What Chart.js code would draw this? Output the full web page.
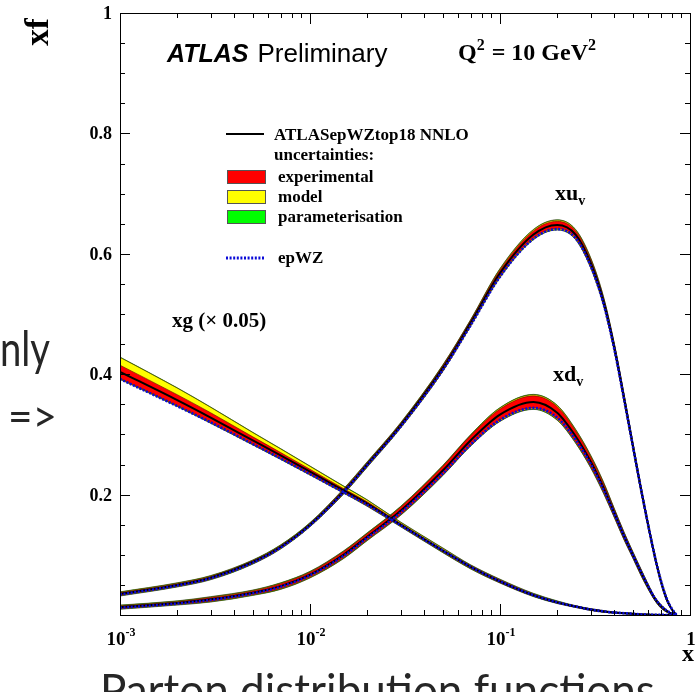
<!DOCTYPE html>
<html>
<head>
<meta charset="utf-8">
<script src="https://cdn.jsdelivr.net/npm/chart.js@4"></script>
<style>
  html, body { margin: 0; padding: 0; background: #fff; }
</style>
</head>
<body>
<canvas id="pdf-chart" width="697" height="692"></canvas>
<script>
// x grid and PDF values (xg already scaled by 0.05)
const xGrid = [0.001, 0.002, 0.003, 0.005, 0.007, 0.01, 0.015, 0.02, 0.03, 0.05, 0.07, 0.1, 0.15, 0.2, 0.25, 0.3, 0.35, 0.4, 0.45, 0.5, 0.55, 0.6, 0.65, 0.7, 0.75, 0.8, 0.85];

const xuv = [0.035, 0.05, 0.062, 0.088, 0.113, 0.15, 0.205, 0.25, 0.315, 0.41, 0.485, 0.568, 0.632, 0.648, 0.632, 0.585, 0.522, 0.444, 0.36, 0.282, 0.212, 0.152, 0.1, 0.058, 0.028, 0.01, 0.0];
const xdv = [0.013, 0.02, 0.026, 0.037, 0.048, 0.067, 0.1, 0.13, 0.173, 0.24, 0.29, 0.333, 0.354, 0.336, 0.297, 0.255, 0.212, 0.169, 0.131, 0.1, 0.072, 0.048, 0.028, 0.015, 0.007, 0.002, 0.0];
const xg = [0.404, 0.357, 0.328, 0.29, 0.265, 0.238, 0.207, 0.185, 0.15, 0.107, 0.08, 0.056, 0.033, 0.021, 0.014, 0.009, 0.006, 0.004, 0.003, 0.002, 0.001, 0.0007, 0.0004, 0.0002, 0.0001, 0.0, 0.0];

// epWZ comparison curves
const xuvEpWZ = [0.034, 0.049, 0.061, 0.087, 0.112, 0.149, 0.204, 0.249, 0.313, 0.407, 0.481, 0.562, 0.625, 0.641, 0.626, 0.58, 0.518, 0.441, 0.358, 0.281, 0.212, 0.152, 0.1, 0.059, 0.029, 0.011, 0.0];
const xdvEpWZ = [0.012, 0.019, 0.025, 0.036, 0.047, 0.066, 0.098, 0.128, 0.17, 0.235, 0.283, 0.324, 0.344, 0.328, 0.291, 0.251, 0.209, 0.168, 0.131, 0.1, 0.073, 0.049, 0.029, 0.016, 0.008, 0.003, 0.0];
const xgEpWZ = [0.392, 0.347, 0.32, 0.284, 0.26, 0.234, 0.204, 0.183, 0.149, 0.107, 0.08, 0.056, 0.033, 0.021, 0.014, 0.009, 0.006, 0.004, 0.003, 0.002, 0.001, 0.0007, 0.0004, 0.0002, 0.0001, 0.0, 0.0];

// uncertainties (half widths)
const xuvExp = [0.002, 0.002, 0.002, 0.002, 0.002, 0.002, 0.003, 0.003, 0.003, 0.004, 0.004, 0.005, 0.006, 0.006, 0.006, 0.006, 0.005, 0.005, 0.005, 0.004, 0.004, 0.003, 0.003, 0.002, 0.002, 0.001, 0.0];
const xdvExp = [0.002, 0.002, 0.003, 0.003, 0.004, 0.004, 0.005, 0.005, 0.006, 0.007, 0.008, 0.009, 0.01, 0.01, 0.009, 0.008, 0.007, 0.006, 0.005, 0.004, 0.004, 0.003, 0.002, 0.002, 0.001, 0.001, 0.0];
const xgExp = [0.011, 0.009, 0.008, 0.006, 0.005, 0.004, 0.003, 0.003, 0.002, 0.002, 0.002, 0.002, 0.0015, 0.001, 0.001, 0.001, 0.001, 0.0005, 0.0005, 0.0005, 0.0005, 0.0003, 0.0002, 0.0001, 0.0, 0.0, 0.0];
const valenceModel = [0.001, 0.001, 0.001, 0.001, 0.001, 0.001, 0.001, 0.001, 0.001, 0.001, 0.001, 0.002, 0.002, 0.002, 0.002, 0.002, 0.002, 0.001, 0.001, 0.001, 0.001, 0.001, 0.001, 0.001, 0.001, 0.0, 0.0];
const xgModelUp = [0.013, 0.011, 0.009, 0.007, 0.006, 0.005, 0.004, 0.003, 0.002, 0.002, 0.001, 0.001, 0.001, 0.001, 0.0, 0.0, 0.0, 0.0, 0.0, 0.0, 0.0, 0.0, 0.0, 0.0, 0.0, 0.0, 0.0];
const xgModelDn = [0.001, 0.001, 0.001, 0.001, 0.001, 0.001, 0.001, 0.001, 0.001, 0.001, 0.001, 0.0005, 0.0005, 0.0005, 0.0, 0.0, 0.0, 0.0, 0.0, 0.0, 0.0, 0.0, 0.0, 0.0, 0.0, 0.0, 0.0];
const paramErr = [0.0005, 0.0005, 0.0005, 0.0005, 0.0005, 0.0005, 0.0005, 0.0005, 0.0005, 0.0005, 0.0005, 0.0005, 0.0005, 0.0005, 0.0005, 0.0005, 0.0005, 0.0005, 0.0005, 0.0005, 0.0005, 0.0005, 0.0, 0.0, 0.0, 0.0, 0.0];

// axis ticks and labels
const xLabelValues = [0.001, 0.01, 0.1, 1];
const xLabelText = [['10', '-3'], ['10', '-2'], ['10', '-1'], ['1', '']];
const yLabelValues = [0.2, 0.4, 0.6, 0.8, 1];
const yLabelText = ['0.2', '0.4', '0.6', '0.8', '1'];

const SERIF = '"Liberation Serif", "Times New Roman", serif';
const SANS = '"Liberation Sans", Arial, sans-serif';
const SLIDE = 'Lato, "Open Sans", sans-serif';

function toPoints(vals, errs, sign) {
    return xGrid.map((x, i) => {
        let y = vals[i];
        errs.forEach(e => { y += sign * e[i]; });
        return { x: x, y: y };
    });
}

function line(vals, color, width, dash) {
    return {
        data: toPoints(vals, [], 0),
        borderColor: color,
        borderWidth: width,
        borderDash: dash || [],
        pointRadius: 0,
        fill: false,
        cubicInterpolationMode: 'monotone'
    };
}

function band(vals, up, dn, fillColor, edgeColor) {
    return [{
        data: toPoints(vals, up, 1),
        borderColor: edgeColor,
        borderWidth: 0.6,
        backgroundColor: fillColor,
        pointRadius: 0,
        fill: '+1',
        cubicInterpolationMode: 'monotone'
    }, {
        data: toPoints(vals, dn, -1),
        borderColor: edgeColor,
        borderWidth: 0.6,
        pointRadius: 0,
        fill: false,
        cubicInterpolationMode: 'monotone'
    }];
}

const datasets = [
    line(xuvEpWZ, '#0a0ad8', 2.6, [2, 1.6]),
    line(xdvEpWZ, '#0a0ad8', 2.6, [2, 1.6]),
    line(xgEpWZ, '#0a0ad8', 2.6, [2, 1.6]),
    line(xuv, '#000000', 2),
    line(xdv, '#000000', 2),
    line(xg, '#000000', 2),
    ...band(xuv, [xuvExp], [xuvExp], '#ff0000', '#5a0a00'),
    ...band(xdv, [xdvExp], [xdvExp], '#ff0000', '#5a0a00'),
    ...band(xg, [xgExp], [xgExp], '#ff0000', '#5a0a00'),
    ...band(xuv, [xuvExp, valenceModel], [xuvExp, valenceModel], '#ffff00', '#4a3a00'),
    ...band(xdv, [xdvExp, valenceModel], [xdvExp, valenceModel], '#ffff00', '#4a3a00'),
    ...band(xg, [xgExp, xgModelUp], [xgExp, xgModelDn], '#ffff00', '#4a3a00'),
    ...band(xuv, [xuvExp, valenceModel, paramErr], [xuvExp, valenceModel, paramErr], '#00ff00', '#2a3a1a'),
    ...band(xdv, [xdvExp, valenceModel, paramErr], [xdvExp, valenceModel, paramErr], '#00ff00', '#2a3a1a'),
    ...band(xg, [xgExp, xgModelUp, paramErr], [xgExp, xgModelDn, paramErr], '#00ff00', '#2a3a1a')
];

function textWithScript(ctx, base, script, x, y, size, raise, align) {
    ctx.font = 'bold ' + size + 'px ' + SERIF;
    const w1 = ctx.measureText(base).width;
    ctx.font = 'bold ' + Math.round(size * 0.65) + 'px ' + SERIF;
    const w2 = script ? ctx.measureText(script).width : 0;
    let left = x;
    if (align === 'center') left = x - (w1 + w2) / 2;
    ctx.textAlign = 'left';
    ctx.font = 'bold ' + size + 'px ' + SERIF;
    ctx.fillText(base, left, y);
    if (script) {
        ctx.font = 'bold ' + Math.round(size * 0.65) + 'px ' + SERIF;
        ctx.fillText(script, left + w1, y + raise);
    }
    return left + w1 + w2;
}

const rootFrame = {
    id: 'rootFrame',
    afterDraw(chart) {
        const ctx = chart.ctx;
        const a = chart.chartArea;
        const xs = chart.scales.x;
        const ys = chart.scales.y;
        ctx.save();
        ctx.fillStyle = '#000';
        ctx.strokeStyle = '#000';
        ctx.lineWidth = 1;
        ctx.strokeRect(a.left + 0.5, a.top + 0.5, a.right - a.left, a.bottom - a.top);

        // x ticks, inward on bottom and top
        ctx.beginPath();
        [-3, -2, -1].forEach(k => {
            for (let m = 1; m <= 9; m++) {
                const v = m * Math.pow(10, k);
                if (v <= xs.min) continue;
                const px = Math.round(xs.getPixelForValue(v)) + 0.5;
                const len = m === 1 ? 11 : 5;
                ctx.moveTo(px, a.bottom); ctx.lineTo(px, a.bottom - len);
                ctx.moveTo(px, a.top); ctx.lineTo(px, a.top + len);
            }
        });
        // y ticks, inward on left and right
        for (let i = 1; i < 20; i++) {
            const py = Math.round(ys.getPixelForValue(i * 0.05)) + 0.5;
            const len = i % 4 === 0 ? 10 : 5;
            ctx.moveTo(a.left, py); ctx.lineTo(a.left + len, py);
            ctx.moveTo(a.right, py); ctx.lineTo(a.right - len, py);
        }
        ctx.stroke();

        // tick labels
        ctx.textBaseline = 'alphabetic';
        yLabelValues.forEach((v, i) => {
            ctx.font = 'bold 18px ' + SERIF;
            ctx.textAlign = 'right';
            ctx.fillText(yLabelText[i], a.left - 8, ys.getPixelForValue(v) + 6);
        });
        xLabelValues.forEach((v, i) => {
            textWithScript(ctx, xLabelText[i][0], xLabelText[i][1], xs.getPixelForValue(v) + 1, 645, 19, -9, 'center');
        });

        // axis titles
        ctx.font = 'bold 24px ' + SERIF;
        ctx.textAlign = 'left';
        ctx.fillText('x', 682, 661);
        ctx.save();
        ctx.translate(48, 32);
        ctx.rotate(-Math.PI / 2);
        ctx.font = 'bold 33px ' + SERIF;
        ctx.textAlign = 'center';
        ctx.fillText('xf', 0, 0);
        ctx.restore();

        // ATLAS label and scale
        ctx.textAlign = 'left';
        ctx.font = 'italic bold 25px ' + SANS;
        ctx.fillText('ATLAS', 167, 62);
        const wA = ctx.measureText('ATLAS ').width;
        ctx.font = '26px ' + SANS;
        ctx.fillText('Preliminary', 167 + wA + 2, 62);
        let qx = textWithScript(ctx, 'Q', '2', 458, 60, 24, -10, 'left');
        qx = textWithScript(ctx, ' = 10 GeV', '2', qx + 1, 60, 24, -10, 'left');

        // curve labels
        ctx.font = 'bold 21px ' + SERIF;
        ctx.fillText('xg (\u00d7 0.05)', 172, 327);
        textWithScript(ctx, 'xu', 'v', 555, 200, 22, 5, 'left');
        textWithScript(ctx, 'xd', 'v', 553, 381, 22, 5, 'left');

        // legend
        ctx.lineWidth = 2;
        ctx.beginPath(); ctx.moveTo(226, 134); ctx.lineTo(264, 134); ctx.stroke();
        ctx.font = 'bold 17px ' + SERIF;
        ctx.fillText('ATLASepWZtop18 NNLO', 274, 140);
        ctx.fillText('uncertainties:', 274, 160);
        const boxes = [['#ff0000', 170, 'experimental'], ['#ffff00', 190, 'model'], ['#00ff00', 210, 'parameterisation']];
        ctx.lineWidth = 1;
        boxes.forEach(b => {
            ctx.fillStyle = b[0];
            ctx.fillRect(227, b[1], 39, 14);
            ctx.strokeStyle = '#555';
            ctx.strokeRect(227.5, b[1] + 0.5, 38, 13);
            ctx.fillStyle = '#000';
            ctx.fillText(b[2], 278, b[1] + 12);
        });
        ctx.strokeStyle = '#0a0ad8';
        ctx.lineWidth = 3;
        ctx.setLineDash([2, 1.6]);
        ctx.beginPath(); ctx.moveTo(226, 258); ctx.lineTo(264, 258); ctx.stroke();
        ctx.setLineDash([]);
        ctx.fillText('epWZ', 278, 263);

        // slide text around the figure
        ctx.fillStyle = '#262626';
        ctx.font = '48px ' + SLIDE;
        ctx.fillText('nly', 0, 366, 50);
        ctx.font = '44px ' + SLIDE;
        ctx.fillText('=>', 8, 432, 49);
        ctx.font = '44px ' + SLIDE;
        ctx.fillText('Parton distribution functions', 100, 706);
        ctx.restore();
    }
};

new Chart(document.getElementById('pdf-chart').getContext('2d'), {
    type: 'line',
    data: { datasets: datasets },
    options: {
        responsive: false,
        animation: false,
        devicePixelRatio: 1,
        layout: { padding: { left: 120, right: 7, top: 13, bottom: 77 } },
        scales: {
            x: { type: 'logarithmic', min: 0.001, max: 1, display: false },
            y: { type: 'linear', min: 0, max: 1, display: false }
        },
        plugins: {
            legend: { display: false },
            tooltip: { enabled: false },
            filler: { drawTime: 'beforeDatasetsDraw' }
        }
    },
    plugins: [rootFrame]
});
</script>
</body>
</html>
